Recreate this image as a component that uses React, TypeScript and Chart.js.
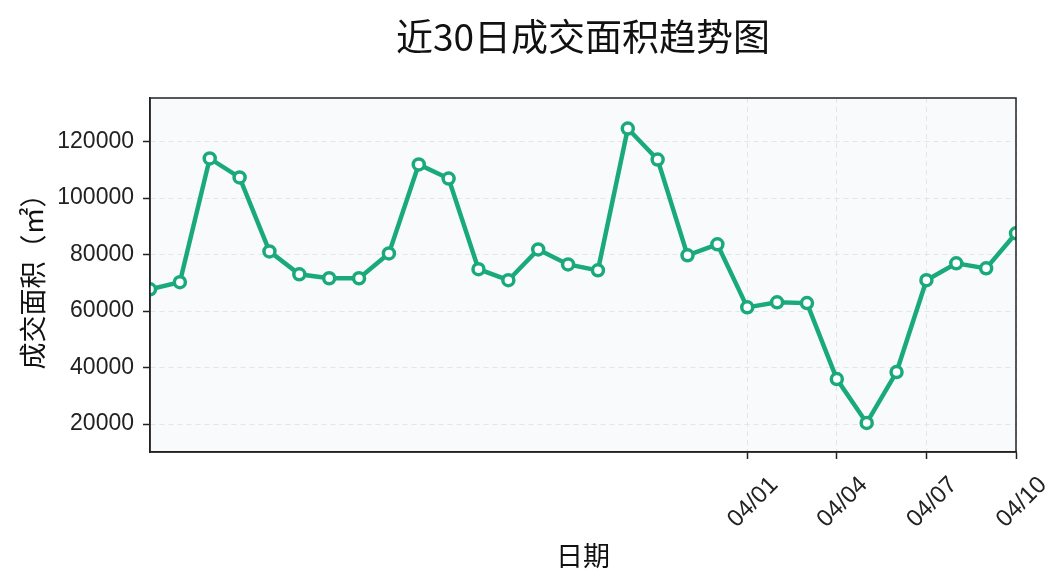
import React, { useEffect, useRef } from "react";
import { Chart, registerables } from "chart.js";

Chart.register(...registerables);

const dates: string[] = [
  "03/12", "03/13", "03/14", "03/15", "03/16", "03/17", "03/18", "03/19", "03/20", "03/21",
  "03/22", "03/23", "03/24", "03/25", "03/26", "03/27", "03/28", "03/29", "03/30", "03/31",
  "04/01", "04/02", "04/03", "04/04", "04/05", "04/06", "04/07", "04/08", "04/09", "04/10",
];

const areas: number[] = [
  67700, 70200, 114000, 107300, 81100, 73000, 71600, 71600, 80400, 111900,
  106900, 74800, 70900, 81800, 76500, 74400, 124600, 113600, 79700, 83600,
  61300, 63100, 62800, 35900, 20400, 38400, 70900, 76900, 75100, 87500,
];

const xTickLabels: string[] = ["04/01", "04/04", "04/07", "04/10"];
const yTickValues: number[] = [20000, 40000, 60000, 80000, 100000, 120000];

const GREEN = "#1aaa7a";
const CJK = "'Noto Sans CJK SC', 'Noto Sans', sans-serif";
const LATIN = "'Liberation Sans', Arial, sans-serif";

const plotBg = {
  id: "plotBg",
  beforeDraw(chart: any) {
    const { ctx, chartArea } = chart;
    ctx.save();
    ctx.fillStyle = "#f8fafc";
    ctx.fillRect(chartArea.left, chartArea.top, chartArea.right - chartArea.left, chartArea.bottom - chartArea.top);
    ctx.restore();
  },
  afterDatasetsDraw(chart: any) {
    const { ctx, chartArea } = chart;
    ctx.save();
    ctx.strokeStyle = "#222222";
    ctx.lineWidth = 1.5;
    ctx.strokeRect(chartArea.left, chartArea.top, chartArea.right - chartArea.left, chartArea.bottom - chartArea.top);
    ctx.restore();
  },
};

export default function App() {
  const ref = useRef<HTMLCanvasElement | null>(null);

  useEffect(() => {
    if (!ref.current) return;
    const points = areas.map((v, i) => ({ x: i, y: v }));
    const chart = new Chart(ref.current, {
      type: "line",
      data: {
        datasets: [
          {
            label: "成交面积",
            data: points,
            borderColor: GREEN,
            borderWidth: 4.5,
            backgroundColor: "#ffffff",
            pointBackgroundColor: "#ffffff",
            pointBorderColor: GREEN,
            pointBorderWidth: 3.5,
            pointRadius: 5.5,
            tension: 0,
          },
        ],
      },
      options: {
        animation: false,
        responsive: true,
        maintainAspectRatio: false,
        layout: { padding: { left: 0, right: 48, top: 0, bottom: 0 } },
        plugins: {
          legend: { display: false },
          tooltip: { enabled: false },
          title: {
            display: true,
            text: "近30日成交面积趋势图",
            color: "#111111",
            fullSize: false,
            font: { family: CJK, size: 37, weight: "normal" },
            padding: { top: 15, bottom: 38.6 },
          },
        },
        scales: {
          x: {
            type: "linear",
            min: 0,
            max: dates.length - 1,
            afterBuildTicks(scale: any) {
              scale.ticks = xTickLabels.map((l) => ({ value: dates.indexOf(l) }));
            },
            afterFit(scale: any) {
              scale.height = 133;
            },
            ticks: {
              autoSkip: false,
              minRotation: 45,
              maxRotation: 45,
              color: "#222222",
              padding: 12,
              labelOffset: 27,
              font: { family: LATIN, size: 24 },
              callback: (v: any) => dates[Math.round(Number(v))],
            },
            grid: {
              color: "#e3e6e9",
              lineWidth: 1,
              drawTicks: true,
              tickLength: 7,
              tickColor: "#222222",
              tickWidth: 1.5,
              tickBorderDash: [],
            },
            border: { display: true, color: "#222222", width: 1.5, dash: [5, 4] },
            title: {
              display: true,
              text: "日期",
              color: "#111111",
              font: { family: CJK, size: 27 },
              padding: { top: 0, bottom: 13 },
            },
          },
          y: {
            type: "linear",
            min: 10100,
            max: 135400,
            afterBuildTicks(scale: any) {
              scale.ticks = yTickValues.map((v) => ({ value: v }));
            },
            afterFit(scale: any) {
              scale.width = 150;
            },
            ticks: {
              color: "#222222",
              padding: 9,
              font: { family: LATIN, size: 23 },
              callback: (v: any) => String(v),
            },
            grid: {
              color: "#e3e6e9",
              lineWidth: 1,
              drawTicks: true,
              tickLength: 7,
              tickColor: "#222222",
              tickWidth: 1.5,
              tickBorderDash: [],
            },
            border: { display: true, color: "#222222", width: 1.5, dash: [5, 4] },
            title: {
              display: true,
              text: "成交面积（㎡）",
              color: "#111111",
              font: { family: CJK, size: 27 },
              padding: { top: 17, bottom: 0 },
            },
          },
        },
      },
      plugins: [plotBg],
    });
    return () => chart.destroy();
  }, []);

  return (
    <div style={{ position: "fixed", left: 0, top: 0, width: 1064, height: 585, background: "#ffffff" }}>
      <canvas ref={ref} />
    </div>
  );
}
